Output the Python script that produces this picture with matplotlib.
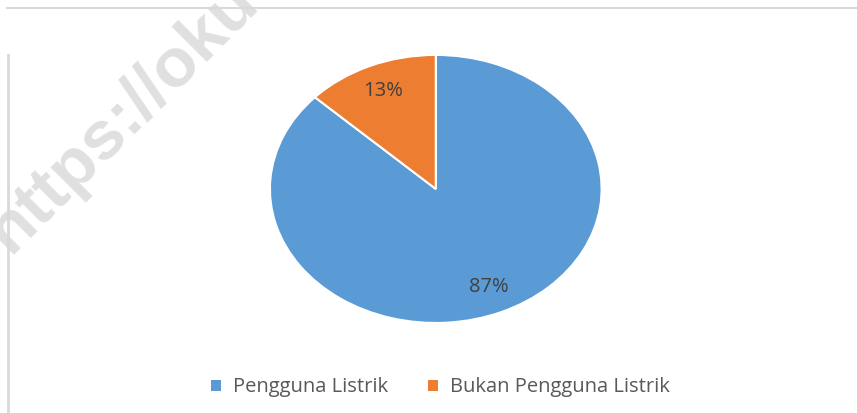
import matplotlib
matplotlib.use("Agg")
import matplotlib.pyplot as plt
from matplotlib.patches import Patch
from matplotlib.lines import Line2D

labels = ["Pengguna Listrik", "Bukan Pengguna Listrik"]
values = [87, 13]
colors = ["#5B9BD5", "#ED7D31"]

plt.rcParams['font.family'] = ['Open Sans', 'DejaVu Sans']

fig = plt.figure(figsize=(8.57, 4.13), dpi=100)

# pie area (stretched wider than tall like the original)
ax = fig.add_axes([0.315, 0.218, 0.387, 0.649])
wedges, texts, autotexts = ax.pie(values, colors=colors, startangle=90, counterclock=False,
                                  autopct='%1.0f%%', pctdistance=0.8,
                                  wedgeprops=dict(edgecolor='white', linewidth=1.5),
                                  textprops=dict(color='#404040', fontsize=14.5))
ax.set_aspect('auto')
ax.set_xlim(-1, 1)
ax.set_ylim(-1, 1)

# legend
handles = [Patch(facecolor=c, edgecolor='none') for c in colors]
fig.legend(handles, labels, loc='center', bbox_to_anchor=(0.514, 0.062), ncol=2,
           frameon=False, fontsize=14.5, labelcolor='#595959',
           handlelength=0.5, handleheight=0.5, handletextpad=0.6, columnspacing=2.0)

# chart border fragments
fig.add_artist(Line2D([7 / 857, 1], [1 - 8 / 413, 1 - 8 / 413], color='#D9D9D9', lw=1.5))
fig.add_artist(Line2D([8 / 857, 8 / 857], [0, 1 - 55 / 413], color='#D9D9D9', lw=2))

# watermark
fig.text(0.0105, 0.383, "https://oku", rotation=45, rotation_mode='anchor',
         ha='left', va='baseline', fontsize=50, fontweight='bold',
         family='Liberation Sans', color='#E0E0E0', zorder=0)

fig.savefig("out.png", dpi=100)
